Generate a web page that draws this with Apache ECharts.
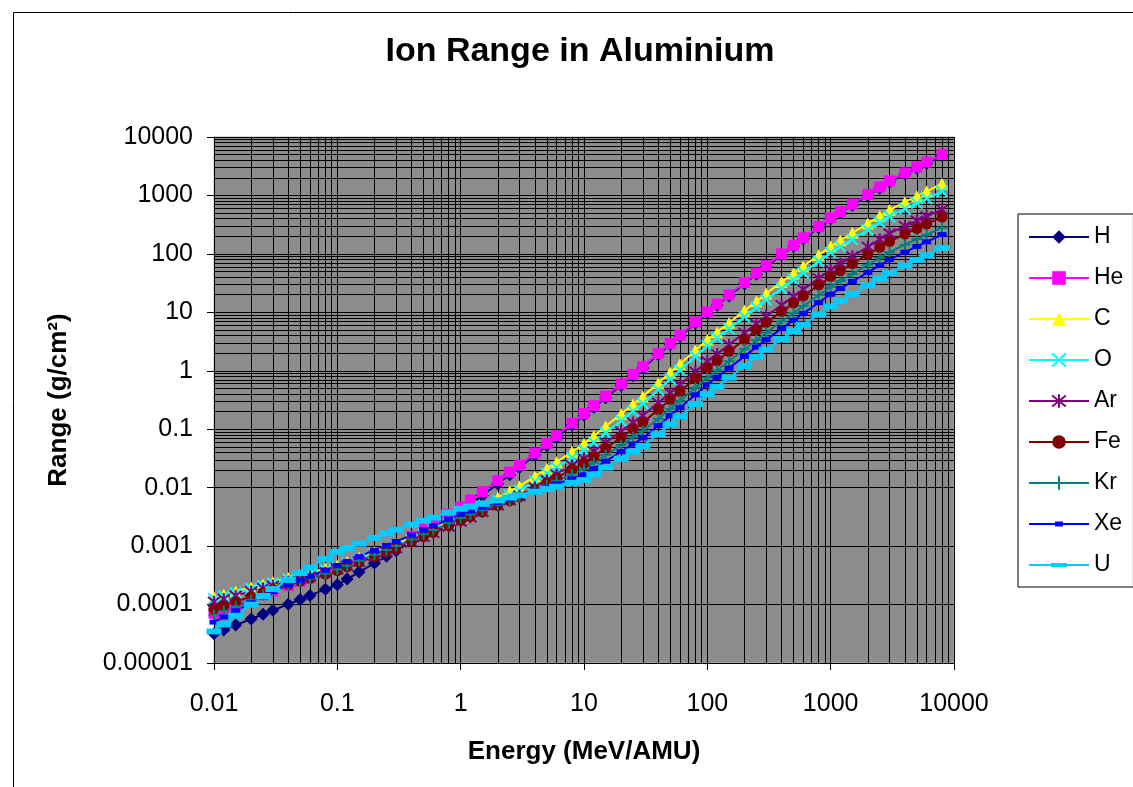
<!DOCTYPE html>
<html>
<head>
<meta charset="utf-8">
<script src="https://cdn.jsdelivr.net/npm/echarts@6/dist/echarts.min.js"></script>
<style>
  html, body { margin: 0; padding: 0; background: #ffffff; }
  #chart { width: 1133px; height: 787px; }
</style>
</head>
<body>
<div id="chart"></div>
<script>
// Energy per nucleon (MeV/AMU)
const energies = [
  0.01, 0.012, 0.015, 0.02, 0.025, 0.03, 0.04, 0.05, 0.06, 0.08,
  0.1, 0.12, 0.15, 0.2, 0.25, 0.3, 0.4, 0.5, 0.6, 0.8,
  1, 1.2, 1.5, 2, 2.5, 3, 4, 5, 6, 8,
  10, 12, 15, 20, 25, 30, 40, 50, 60, 80,
  100, 120, 150, 200, 250, 300, 400, 500, 600, 800,
  1000, 1200, 1500, 2000, 2500, 3000, 4000, 5000, 6000, 8000
];

// Range in aluminium (g/cm2) for each ion
const rangeH = [
  3.16e-5, 3.68e-5, 4.45e-5, 5.66e-5, 6.82e-5, 7.96e-5, 1.01e-4, 1.22e-4, 1.43e-4, 1.82e-4,
  2.19e-4, 2.73e-4, 3.59e-4, 5.09e-4, 6.70e-4, 8.36e-4, 1.21e-3, 1.60e-3, 2.02e-3, 2.92e-3,
  3.89e-3, 5.19e-3, 7.38e-3, 1.16e-2, 1.66e-2, 2.21e-2, 3.59e-2, 5.27e-2, 7.21e-2, 0.118,
  0.174, 0.237, 0.346, 0.565, 0.826, 1.12, 1.88, 2.81, 3.89, 6.53,
  9.77, 13.2, 19.1, 30.9, 44.8, 60.5, 95.3, 135, 179, 281,
  398, 506, 679, 993, 1333, 1698, 2323, 2931, 3548, 4786
];
const rangeHe = [
  7.08e-5, 8.18e-5, 9.79e-5, 1.23e-4, 1.47e-4, 1.71e-4, 2.11e-4, 2.49e-4, 2.86e-4, 3.53e-4,
  4.17e-4, 4.84e-4, 5.81e-4, 7.36e-4, 8.83e-4, 1.03e-3, 1.45e-3, 1.93e-3, 2.43e-3, 3.52e-3,
  4.68e-3, 6.15e-3, 8.59e-3, 1.32e-2, 1.85e-2, 2.43e-2, 3.92e-2, 5.73e-2, 7.82e-2, 0.127,
  0.186, 0.253, 0.368, 0.597, 0.869, 1.18, 1.97, 2.94, 4.07, 6.84,
  10.2, 13.8, 20.0, 32.4, 46.9, 63.4, 99.8, 141, 188, 294,
  417, 530, 711, 1040, 1396, 1778, 2432, 3069, 3715, 5012
];
const rangeC = [
  1.35e-4, 1.49e-4, 1.68e-4, 1.96e-4, 2.21e-4, 2.44e-4, 2.85e-4, 3.21e-4, 3.55e-4, 4.15e-4,
  4.68e-4, 5.37e-4, 6.37e-4, 7.93e-4, 9.38e-4, 1.08e-3, 1.39e-3, 1.69e-3, 2.00e-3, 2.59e-3,
  3.16e-3, 3.86e-3, 4.94e-3, 6.78e-3, 8.67e-3, 1.06e-2, 1.56e-2, 2.13e-2, 2.75e-2, 4.11e-2,
  5.62e-2, 7.66e-2, 0.112, 0.183, 0.267, 0.364, 0.617, 0.933, 1.31, 2.24,
  3.39, 4.58, 6.64, 10.7, 15.5, 21.0, 32.9, 46.3, 61.4, 95.7,
  135, 171, 229, 332, 444, 562, 769, 971, 1175, 1585
];
const rangeO = [
  1.26e-4, 1.39e-4, 1.58e-4, 1.86e-4, 2.10e-4, 2.33e-4, 2.71e-4, 3.04e-4, 3.35e-4, 3.89e-4,
  4.37e-4, 5.01e-4, 5.94e-4, 7.40e-4, 8.75e-4, 1.01e-3, 1.29e-3, 1.58e-3, 1.86e-3, 2.42e-3,
  2.95e-3, 3.54e-3, 4.43e-3, 5.90e-3, 7.38e-3, 8.85e-3, 1.28e-2, 1.73e-2, 2.20e-2, 3.24e-2,
  4.37e-2, 5.93e-2, 8.63e-2, 0.140, 0.204, 0.276, 0.472, 0.721, 1.02, 1.76,
  2.69, 3.63, 5.24, 8.39, 12.1, 16.3, 25.5, 36.0, 47.6, 74.3,
  105, 133, 177, 258, 344, 437, 590, 738, 883, 1175
];
const rangeAr = [
  1.12e-4, 1.25e-4, 1.42e-4, 1.68e-4, 1.91e-4, 2.12e-4, 2.47e-4, 2.77e-4, 3.05e-4, 3.55e-4,
  3.98e-4, 4.57e-4, 5.42e-4, 6.75e-4, 7.98e-4, 9.18e-4, 1.17e-3, 1.43e-3, 1.68e-3, 2.16e-3,
  2.63e-3, 3.11e-3, 3.82e-3, 4.98e-3, 6.11e-3, 7.23e-3, 1.01e-2, 1.34e-2, 1.68e-2, 2.40e-2,
  3.16e-2, 4.19e-2, 5.90e-2, 9.20e-2, 0.130, 0.172, 0.283, 0.421, 0.582, 0.970,
  1.45, 1.94, 2.79, 4.45, 6.38, 8.57, 13.3, 18.7, 24.7, 38.3,
  53.7, 68.1, 91.0, 132, 177, 224, 299, 370, 439, 575
];
const rangeFe = [
  8.32e-5, 9.48e-5, 1.11e-4, 1.37e-4, 1.61e-4, 1.83e-4, 2.19e-4, 2.51e-4, 2.80e-4, 3.33e-4,
  3.80e-4, 4.40e-4, 5.26e-4, 6.62e-4, 7.91e-4, 9.16e-4, 1.19e-3, 1.46e-3, 1.72e-3, 2.24e-3,
  2.75e-3, 3.21e-3, 3.87e-3, 4.93e-3, 5.94e-3, 6.93e-3, 9.42e-3, 1.21e-2, 1.48e-2, 2.05e-2,
  2.63e-2, 3.43e-2, 4.75e-2, 7.23e-2, 0.100, 0.131, 0.215, 0.319, 0.442, 0.736,
  1.10, 1.48, 2.13, 3.42, 4.93, 6.64, 10.3, 14.4, 18.9, 29.2,
  40.7, 51.3, 67.9, 97.5, 129, 163, 218, 271, 323, 427
];
const rangeKr = [
  6.61e-5, 7.73e-5, 9.35e-5, 1.20e-4, 1.45e-4, 1.70e-4, 2.09e-4, 2.45e-4, 2.79e-4, 3.40e-4,
  3.98e-4, 4.63e-4, 5.60e-4, 7.13e-4, 8.59e-4, 1.00e-3, 1.30e-3, 1.60e-3, 1.89e-3, 2.46e-3,
  3.02e-3, 3.47e-3, 4.11e-3, 5.12e-3, 6.05e-3, 6.97e-3, 8.99e-3, 1.10e-2, 1.31e-2, 1.70e-2,
  2.09e-2, 2.67e-2, 3.62e-2, 5.36e-2, 7.26e-2, 9.31e-2, 0.151, 0.224, 0.308, 0.512,
  0.759, 1.02, 1.46, 2.33, 3.35, 4.50, 6.97, 9.75, 12.8, 19.7,
  27.5, 34.5, 45.5, 65.0, 85.9, 107, 144, 179, 213, 282
];
const rangeXe = [
  5.01e-5, 6.12e-5, 7.83e-5, 1.07e-4, 1.37e-4, 1.68e-4, 2.17e-4, 2.61e-4, 3.05e-4, 3.88e-4,
  4.68e-4, 5.47e-4, 6.62e-4, 8.49e-4, 1.03e-3, 1.20e-3, 1.56e-3, 1.90e-3, 2.24e-3, 2.90e-3,
  3.55e-3, 3.99e-3, 4.60e-3, 5.53e-3, 6.38e-3, 7.16e-3, 8.73e-3, 1.02e-2, 1.16e-2, 1.42e-2,
  1.66e-2, 2.11e-2, 2.83e-2, 4.14e-2, 5.56e-2, 7.08e-2, 0.115, 0.170, 0.234, 0.388,
  0.575, 0.773, 1.11, 1.77, 2.54, 3.41, 5.26, 7.33, 9.57, 14.7,
  20.4, 25.6, 33.7, 48.2, 63.7, 79.6, 107, 134, 161, 214
];
const rangeU = [
  3.47e-5, 4.57e-5, 6.43e-5, 9.95e-5, 1.40e-4, 1.84e-4, 2.64e-4, 3.46e-4, 4.31e-4, 6.08e-4,
  7.94e-4, 9.18e-4, 1.10e-3, 1.38e-3, 1.65e-3, 1.91e-3, 2.34e-3, 2.72e-3, 3.08e-3, 3.75e-3,
  4.37e-3, 4.76e-3, 5.30e-3, 6.08e-3, 6.78e-3, 7.40e-3, 8.53e-3, 9.55e-3, 1.04e-2, 1.21e-2,
  1.35e-2, 1.68e-2, 2.21e-2, 3.14e-2, 4.13e-2, 5.15e-2, 8.22e-2, 0.121, 0.165, 0.271,
  0.398, 0.532, 0.762, 1.21, 1.73, 2.31, 3.49, 4.78, 6.15, 9.20,
  12.6, 15.7, 20.5, 28.9, 37.8, 47.0, 63.2, 79.1, 94.6, 126
];

const ionNames = ['H', 'He', 'C', 'O', 'Ar', 'Fe', 'Kr', 'Xe', 'U'];
const ionRanges = [rangeH, rangeHe, rangeC, rangeO, rangeAr, rangeFe, rangeKr, rangeXe, rangeU];

const xTickLabels = ['0.01', '0.1', '1', '10', '100', '1000', '10000'];
const yTickLabels = ['0.00001', '0.0001', '0.001', '0.01', '0.1', '1', '10', '100', '1000', '10000'];

// Marker styling per ion
const ionColors = ['#000080', '#FF00FF', '#FFFF00', '#00FFFF', '#800080', '#800000', '#008080', '#0000FF', '#00CCFF'];
const ionMarkers = [
  { symbol: 'diamond', size: 13 },
  { symbol: 'rect', size: 11 },
  { symbol: 'triangle', size: 12 },
  { symbol: 'path://M0 0L10 10M10 0L0 10', size: 11, stroke: true },
  { symbol: 'path://M5 0L5 10M1 1L9 9M9 1L1 9', size: 12, stroke: true },
  { symbol: 'circle', size: 11 },
  { symbol: 'path://M5 0L5 10M0 5L10 5', size: 11, stroke: true },
  { symbol: 'rect', size: [9, 5] },
  { symbol: 'rect', size: [15, 6] }
];
// Legend keys for the bar-shaped markers: line plus a flat bar, inside a 60x17 box
const legendIcons = {
  Xe: 'path://M0 0L0.01 0L0 0.01Z M60 17L59.99 17L60 16.99Z M0 7.5H60V9.5H0Z M26 6H34V11H26Z',
  U: 'path://M0 0L0.01 0L0 0.01Z M60 17L59.99 17L60 16.99Z M0 7.5H60V9.5H0Z M22 6.5H38V10.5H22Z'
};

// Logarithmic minor grid positions (2..9 within each decade)
function minorValues(fromExp, toExp) {
  const out = [];
  for (let e = fromExp; e < toExp; e++) {
    for (let m = 2; m <= 9; m++) out.push(+(m * Math.pow(10, e)).toPrecision(3));
  }
  return out;
}
const xMinor = minorValues(-2, 4);
const yMinor = minorValues(-5, 4);

const FONT = 'Liberation Sans, Arial, sans-serif';
const chart = echarts.init(document.getElementById('chart'), null, { renderer: 'canvas' });

const dataSeries = ionNames.map((name, i) => {
  const mk = ionMarkers[i];
  const itemStyle = mk.stroke
    ? { color: ionColors[i], borderColor: ionColors[i], borderWidth: 2 }
    : { color: ionColors[i] };
  return {
    name: name,
    type: 'line',
    data: energies.map((e, j) => [e, ionRanges[i][j]]),
    symbol: mk.symbol,
    symbolSize: mk.size,
    showSymbol: true,
    showAllSymbol: true,
    color: ionColors[i],
    lineStyle: { color: ionColors[i], width: 2 },
    itemStyle: itemStyle,
    z: 5,
    animation: false
  };
});

const gridSeries = {
  name: 'grid-minor',
  type: 'line',
  data: [],
  symbol: 'none',
  silent: true,
  z: 1,
  animation: false,
  markLine: {
    silent: true,
    symbol: ['none', 'none'],
    animation: false,
    label: { show: false },
    lineStyle: { color: '#000000', width: 1, type: 'solid', opacity: 1 },
    emphasis: { disabled: true },
    data: xMinor.map(v => ({ xAxis: v })).concat(yMinor.map(v => ({ yAxis: v })))
  }
};

const option = {
  backgroundColor: '#ffffff',
  animation: false,
  textStyle: { fontFamily: FONT, color: '#000' },
  title: {
    text: 'Ion Range in Aluminium',
    left: 575,
    top: 30,
    textAlign: 'center',
    textStyle: { fontFamily: FONT, fontSize: 34, fontWeight: 'bold', color: '#000' }
  },
  graphic: [{
    type: 'rect',
    z: -10,
    silent: true,
    shape: { x: 13.5, y: 12.5, width: 1300, height: 900 },
    style: { fill: 'none', stroke: '#000000', lineWidth: 1 }
  }],
  grid: {
    left: 214, top: 137, width: 740, height: 526,
    show: true,
    backgroundColor: '#8c8c8c',
    borderColor: '#b4b4b4',
    borderWidth: 1
  },
  legend: {
    data: ionNames.map(n => legendIcons[n] ? { name: n, icon: legendIcons[n] } : { name: n }),
    orient: 'vertical',
    left: 1018,
    top: 214,
    padding: [11, 10, 10, 10],
    itemGap: 17,
    itemWidth: 60,
    itemHeight: 17,
    backgroundColor: '#ffffff',
    borderColor: '#000000',
    borderWidth: 1,
    borderRadius: 0,
    selectedMode: false,
    textStyle: { fontFamily: FONT, fontSize: 23, color: '#000', lineHeight: 24 }
  },
  xAxis: {
    type: 'log',
    logBase: 10,
    min: 0.01,
    max: 10000,
    splitNumber: 6,
    name: 'Energy (MeV/AMU)',
    nameLocation: 'middle',
    nameGap: 76,
    nameTextStyle: { fontFamily: FONT, fontSize: 26, fontWeight: 'bold', color: '#000' },
    axisLine: { show: true, lineStyle: { color: '#000', width: 1 } },
    axisTick: { show: true, inside: false, length: 7, lineStyle: { color: '#000' } },
    axisLabel: {
      margin: 29,
      fontSize: 25,
      color: '#000',
      fontFamily: FONT,
      formatter: v => xTickLabels[Math.round(Math.log10(v)) + 2]
    },
    splitLine: { show: true, lineStyle: { color: '#000', width: 1 } },
    minorTick: { show: false },
    minorSplitLine: { show: false }
  },
  yAxis: {
    type: 'log',
    logBase: 10,
    min: 0.00001,
    max: 10000,
    splitNumber: 9,
    name: 'Range (g/cm²)',
    nameLocation: 'middle',
    nameRotate: 90,
    nameGap: 142,
    nameTextStyle: { fontFamily: FONT, fontSize: 26, fontWeight: 'bold', color: '#000' },
    axisLine: { show: true, lineStyle: { color: '#000', width: 1 } },
    axisTick: { show: true, inside: false, length: 7, lineStyle: { color: '#000' } },
    axisLabel: {
      margin: 21,
      fontSize: 25,
      color: '#000',
      fontFamily: FONT,
      formatter: v => yTickLabels[Math.round(Math.log10(v)) + 5]
    },
    splitLine: { show: true, lineStyle: { color: '#000', width: 1 } },
    minorTick: { show: false },
    minorSplitLine: { show: false }
  },
  series: [gridSeries].concat(dataSeries)
};

chart.setOption(option);
</script>
</body>
</html>
